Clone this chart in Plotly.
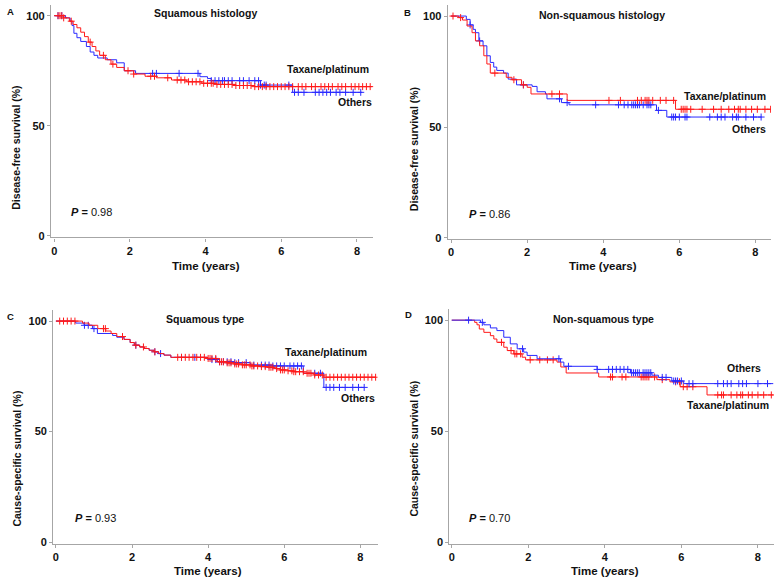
import plotly.graph_objects as go

W, H = 778, 588
FONT = "Arial, Liberation Sans, sans-serif"
RED = "#ff1a1a"
BLUE = "#2a2aff"

# ---------------- data ----------------
# Panel A: Squamous histology, disease-free survival
a_tax_t = [0, 0.25, 0.4, 0.5, 0.6, 0.7, 0.8, 0.9, 1.0, 1.1, 1.2, 1.35, 1.5, 1.65, 1.85, 2.1, 2.4, 2.7, 3.1, 3.5, 3.9, 4.3, 4.8, 5.3, 8.4]
a_tax_s = [100, 99, 97.5, 96, 94.5, 92.5, 90.5, 88, 86, 84, 82, 80, 78, 76.5, 75, 73.5, 72.5, 71.8, 70.8, 70, 69.3, 68.8, 68.3, 67.8, 67.8]
a_tax_c = [0.1, 0.15, 0.2, 0.25, 0.45, 0.95, 1.3, 1.55, 1.95, 2.1, 2.55, 2.65, 3.0, 3.25, 3.35, 3.45, 3.55, 3.65, 3.75,
           3.85, 3.95, 4.05, 4.15, 4.2, 4.3, 4.4, 4.5, 4.6, 4.7, 4.8, 4.9, 5.0, 5.1, 5.2, 5.3, 5.4, 5.5, 5.6, 5.7,
           5.8, 5.9, 6.0, 6.1, 6.2, 6.3, 6.45, 6.55, 6.65, 6.8, 6.9, 7.05, 7.15, 7.25, 7.35, 7.5, 7.6, 7.7, 7.85,
           7.95, 8.05, 8.15, 8.25, 8.35]
a_oth_t = [0, 0.3, 0.42, 0.47, 0.52, 0.6, 0.7, 0.85, 0.95, 1.05, 1.15, 1.4, 1.65, 1.85, 2.15, 3.85, 4.05, 4.15, 5.45, 6.3, 8.14]
a_oth_s = [100, 99, 97.5, 95.5, 92, 90, 88.3, 86, 83.5, 82, 80.8, 80, 78.6, 75, 73.8, 72.3, 71.5, 70.5, 68.5, 65.2, 65.2]
a_oth_c = [0.1, 0.2, 2.6, 2.7, 3.3, 3.8, 4.15, 4.25, 4.35, 4.45, 4.5, 4.6, 4.7, 4.9, 5.0, 5.15, 5.3, 5.4, 5.45, 5.55, 5.6,
           6.2, 6.35, 6.45, 6.6, 6.9, 7.0, 7.1, 7.2, 7.3, 7.45, 7.55, 7.7, 7.9, 8.1]

# Panel B: Non-squamous histology, disease-free survival
b_tax_t = [0, 0.2, 0.3, 0.42, 0.55, 0.64, 0.75, 0.86, 0.94, 1.03, 1.45, 1.6, 1.85, 2.0, 2.1, 3.05, 5.9, 8.4]
b_tax_s = [100, 99.3, 98.2, 95.5, 92.5, 88.8, 86.6, 82.1, 78.4, 74.3, 72.4, 71.3, 69, 67.9, 64.9, 62, 58, 58]
b_tax_c = [0.05, 0.25, 1.15, 1.65, 1.9, 2.65, 2.85, 4.15, 4.45, 4.9, 5.0, 5.1, 5.15, 5.2, 5.3, 5.5, 5.65, 5.85, 6.05,
           6.1, 6.15, 6.2, 6.3, 6.6, 6.9, 7.1, 7.3, 7.45, 7.55, 7.6, 7.75, 7.9, 8.05, 8.25, 8.4]
b_oth_t = [0, 0.4, 0.5, 0.58, 0.64, 0.73, 0.84, 0.94, 1.03, 1.12, 1.2, 1.38, 1.5, 1.72, 2.13, 2.26, 2.48, 2.52, 2.9, 3.1, 5.4, 5.67, 8.16]
b_oth_s = [100, 98.5, 96, 94, 92.5, 88.8, 86.6, 82.1, 79.1, 77, 75.5, 74.3, 71.6, 69, 68.3, 65.9, 64.9, 62.7, 61, 60, 57.5, 54.5, 54.5]
b_oth_c = [0.5, 0.75, 1.9, 2.85, 3.05, 3.8, 4.4, 4.55, 4.65, 4.75, 4.8, 4.85, 4.9, 4.95, 5.05, 5.15, 5.2, 5.25, 5.45,
           5.8, 5.85, 5.9, 6.0, 6.15, 6.2, 6.8, 7.0, 7.1, 7.2, 7.4, 7.5, 7.55, 7.75, 7.95, 8.15]

# Panel C: Squamous type, cause-specific survival
c_tax_t = [0, 0.7, 0.87, 1.1, 1.31, 1.45, 1.6, 1.79, 1.95, 2.06, 2.2, 2.32, 2.45, 2.58, 2.7, 2.84, 3.02, 3.98, 4.24,
           4.5, 4.68, 4.9, 5.11, 5.35, 5.55, 5.75, 5.9, 6.1, 6.25, 6.51, 6.78, 7.04, 8.4]
c_tax_s = [100, 99.1, 98.1, 96.6, 95.5, 94.4, 93, 91.7, 90.3, 89.1, 88.3, 87.6, 86.8, 86.1, 85.3, 84.6, 83.6, 83.1, 81.6,
           81.1, 80.6, 80.2, 79.7, 79.4, 79.1, 78.5, 77.9, 77.5, 77.1, 76.4, 75.6, 74.6, 74.6]
c_tax_c = [0.1, 0.2, 0.3, 0.4, 0.5, 1.25, 1.3, 1.75, 2.1, 2.3, 2.6, 3.2, 3.3, 3.4, 3.5, 3.6, 3.7, 3.8, 3.9, 4.0, 4.05,
           4.1, 4.2, 4.3, 4.35, 4.4, 4.5, 4.55, 4.6, 4.7, 4.75, 4.8, 4.9, 4.95, 5.0, 5.1, 5.15, 5.2, 5.3, 5.4, 5.5,
           5.6, 5.65, 5.7, 5.8, 5.9, 5.95, 6.0, 6.1, 6.2, 6.25, 6.3, 6.4, 6.5, 6.6, 6.65, 6.7, 6.8, 6.9, 7.0, 7.1,
           7.2, 7.3, 7.4, 7.5, 7.6, 7.7, 7.8, 7.9, 8.0, 8.1, 8.2, 8.3, 8.4]
c_oth_t = [0, 0.52, 0.74, 0.96, 1.09, 1.49, 1.6, 1.79, 1.95, 2.06, 2.2, 2.32, 2.45, 2.58, 2.7, 2.84, 3.02, 3.98, 4.24,
           4.68, 5.11, 5.7, 6.5, 7.04, 8.1]
c_oth_s = [100, 99.1, 98.1, 96.6, 94.4, 93.5, 92.7, 91.7, 90.3, 89.1, 88.3, 87.6, 86.8, 86.1, 85.3, 84.6, 83.6, 82.6,
           81.6, 81.2, 80.1, 79.7, 76.4, 70, 70]
c_oth_c = [0.75, 0.85, 1.0, 2.1, 2.6, 2.75, 3.3, 3.65, 4.1, 4.2, 4.3, 4.4, 4.5, 4.6, 4.7, 4.8, 5.0, 5.2, 5.4, 5.5, 5.6,
           5.7, 5.8, 5.9, 6.0, 6.15, 6.25, 6.35, 6.45, 6.8, 6.95, 7.1, 7.2, 7.3, 7.45, 7.6, 7.8, 7.95, 8.1]

# Panel D: Non-squamous type, cause-specific survival
d_tax_t = [0, 0.6, 0.66, 0.72, 0.84, 1.01, 1.1, 1.18, 1.36, 1.45, 1.62, 1.84, 1.93, 2.75, 2.85, 2.99, 3.84, 5.36, 5.7, 5.97, 6.67, 8.4]
d_tax_s = [100, 99, 97.9, 96, 94.5, 93, 91.5, 90, 87.8, 86.3, 84.8, 83.3, 82.1, 81.1, 78.9, 76.2, 74.4, 73.2, 72.2, 70, 66.3, 66.3]
d_tax_c = [1.3, 1.55, 1.65, 1.7, 1.8, 2.05, 2.3, 2.5, 2.65, 4.15, 4.2, 4.45, 4.55, 4.95, 5.0, 5.05, 5.1, 5.15, 5.3,
           5.5, 5.85, 5.95, 6.05, 6.15, 6.3, 6.95, 7.05, 7.1, 7.3, 7.45, 7.55, 7.6, 7.75, 7.85, 8.0, 8.15, 8.35]
d_oth_t = [0, 0.75, 0.84, 1.01, 1.18, 1.36, 1.53, 1.71, 1.88, 1.97, 2.23, 2.84, 2.93, 3.8, 4.67, 5.23, 5.4, 5.75, 6.06, 8.4]
d_oth_s = [100, 99, 97.9, 96.5, 95.3, 92.3, 89.3, 87.1, 85.6, 84.1, 82.6, 81.1, 79.2, 77.8, 76.3, 75.2, 74.2, 72.6, 71.4, 71.4]
d_oth_c = [0.44, 0.8, 1.85, 2.8, 3.05, 3.8, 4.1, 4.2, 4.3, 4.4, 4.5, 4.6, 4.7, 4.75, 4.8, 4.85, 4.9, 5.0, 5.05, 5.1,
           5.15, 5.2, 5.5, 5.6, 5.8, 5.85, 5.9, 6.0, 6.2, 6.3, 6.95, 7.1, 7.2, 7.3, 7.5, 7.6, 7.7, 8.0, 8.25]

panel_titles = ["Squamous histology", "Non-squamous histology", "Squamous type", "Non-squamous type"]
panel_letters = ["A", "B", "C", "D"]
y_titles = ["Disease-free survival (%)", "Disease-free survival (%)",
            "Cause-specific survival (%)", "Cause-specific survival (%)"]
p_values = ["0.98", "0.86", "0.93", "0.70"]
x_ticks = [0, 2, 4, 6, 8]
y_ticks = [0, 50, 100]


def surv_at(times, survs, t):
    s = survs[0]
    for ti, si in zip(times, survs):
        if ti <= t:
            s = si
    return s


geo = [
    dict(x0=50, x1=372.7, y0=239.5, y1=4.7, xr=[-0.087, 8.43], yr=[-0.67, 105]),
    dict(x0=447.3, x1=771, y0=240.7, y1=5, xr=[-0.089, 8.41], yr=[-0.3, 105]),
    dict(x0=52.3, x1=377, y0=548.3, y1=312.7, xr=[-0.07, 8.45], yr=[-0.7, 105]),
    dict(x0=449, x1=774, y0=548.3, y1=311.7, xr=[-0.06, 8.42], yr=[-0.7, 105]),
]

series = [
    (a_tax_t, a_tax_s, a_tax_c, a_oth_t, a_oth_s, a_oth_c),
    (b_tax_t, b_tax_s, b_tax_c, b_oth_t, b_oth_s, b_oth_c),
    (c_tax_t, c_tax_s, c_tax_c, c_oth_t, c_oth_s, c_oth_c),
    (d_tax_t, d_tax_s, d_tax_c, d_oth_t, d_oth_s, d_oth_c),
]

lab_pos = [
    ((370, 70), (373, 103)),
    ((768, 97), (768, 130)),
    ((368, 355), (376, 401)),
    ((771, 408), (763, 371)),
]
letter_pos = [(10, 12), (407, 13), (10, 319), (408, 317)]
title_pos = [(205, 13), (602, 15), (204, 322), (603, 322)]
ytitle_pos = [(15, 149), (413, 150), (16.5, 462), (414, 452)]
xtitle_pos = [(205, 268), (603, 268), (207, 576), (605, 576)]
p_pos = [(68, 214), (467, 216), (72, 522), (467, 522)]


def fx(px):
    return px / W


def fy(py):
    return 1 - py / H


fig = go.Figure()
layout = {}
annotations = []


def ann(x, y, text, xanchor="center", font=None, angle=0):
    annotations.append(dict(x=fx(x), y=fy(y), xref="paper", yref="paper", text=text, xanchor=xanchor,
                            yanchor="middle", showarrow=False, textangle=angle, font=font))


for i in range(4):
    g = geo[i]
    sfx = "" if i == 0 else str(i + 1)
    xa, ya = "x" + sfx, "y" + sfx
    tax_t, tax_s, tax_c, oth_t, oth_s, oth_c = series[i]

    order = [("oth", BLUE), ("tax", RED)] if i < 3 else [("tax", RED), ("oth", BLUE)]
    for key, col in order:
        t, s, c = (tax_t, tax_s, tax_c) if key == "tax" else (oth_t, oth_s, oth_c)
        fig.add_trace(go.Scatter(x=t, y=s, mode="lines", line=dict(color=col, width=1, shape="hv"),
                                 xaxis=xa, yaxis=ya, showlegend=False, hoverinfo="skip"))
        fig.add_trace(go.Scatter(x=c, y=[surv_at(t, s, v) for v in c], mode="markers",
                                 marker=dict(symbol="cross-thin", size=5, line=dict(color=col, width=1)),
                                 xaxis=xa, yaxis=ya, showlegend=False, hoverinfo="skip"))

    axis_common = dict(showline=True, linecolor="#a6a6a6", linewidth=1.2, ticks="outside", ticklen=3,
                       tickcolor="#a6a6a6", tickwidth=1, showgrid=False, zeroline=False,
                       tickfont=dict(family=FONT, size=11, color="#111", weight="bold"))
    layout["xaxis" + sfx] = dict(axis_common, domain=[fx(g["x0"]), fx(g["x1"])], range=g["xr"],
                                 tickvals=x_ticks, anchor=ya)
    layout["yaxis" + sfx] = dict(axis_common, domain=[fy(g["y0"]), fy(g["y1"])], range=g["yr"],
                                 tickvals=y_ticks, anchor=xa)

    lbl_font = dict(family=FONT, size=10.5, color="#111", weight="bold")
    (tx, ty), (ox, oy) = lab_pos[i]
    ann(tx, ty, "Taxane/platinum", "right", lbl_font)
    ann(ox, oy, "Others", "right", lbl_font)
    lx, ly = letter_pos[i]
    ann(lx, ly, panel_letters[i], "center", dict(family=FONT, size=9.5, color="#111", weight="bold"))
    px_, py_ = title_pos[i]
    ann(px_, py_, panel_titles[i], "center", lbl_font)
    yx, yy = ytitle_pos[i]
    ann(yx, yy, y_titles[i], "center", dict(family=FONT, size=10.5, color="#111", weight="bold"), -90)
    xx, xy = xtitle_pos[i]
    ann(xx, xy, "Time (years)", "center", dict(family=FONT, size=11.5, color="#111", weight="bold"))
    ppx, ppy = p_pos[i]
    ann(ppx, ppy, "<b><i>P</i> =</b> " + p_values[i], "left", dict(family=FONT, size=11, color="#111"))

fig.update_layout(**layout)
fig.update_layout(width=W, height=H, margin=dict(l=0, r=0, t=0, b=0), paper_bgcolor="white",
                  plot_bgcolor="white", annotations=annotations, showlegend=False)

fig.write_html("out.html", config={"displayModeBar": False},
               post_script="document.body.style.margin='0';document.body.style.padding='0';")
